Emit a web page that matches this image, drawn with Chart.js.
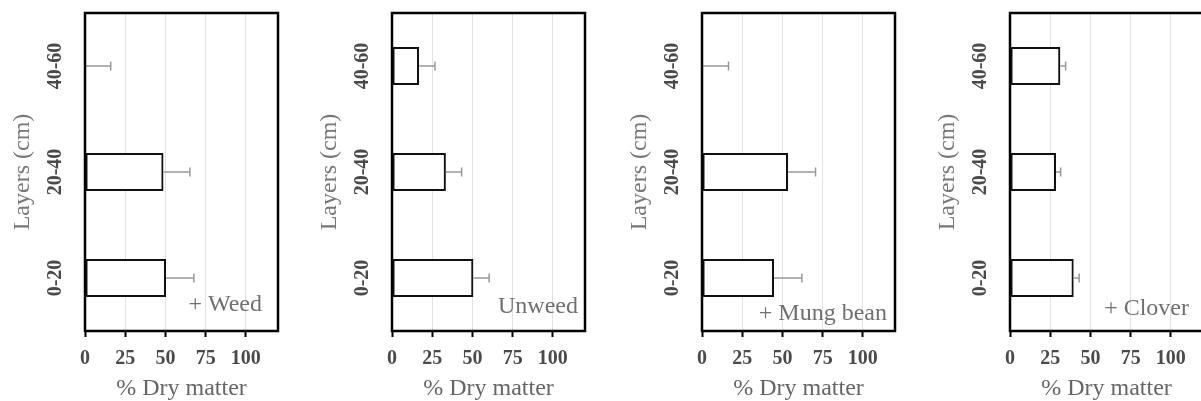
<!DOCTYPE html>
<html>
<head>
<meta charset="utf-8">
<title>% Dry matter by soil layer</title>
<script src="https://cdn.jsdelivr.net/npm/chart.js@4.4.1/dist/chart.umd.min.js"></script>
<style>
    html, body { margin: 0; padding: 0; background: #fff; overflow: hidden; width: 1201px; height: 401px; }
    .panel { position: absolute; top: 0; }
</style>
</head>
<body>
<canvas id="panel0" class="panel" width="308" height="401" style="left:0px"></canvas>
<canvas id="panel1" class="panel" width="308" height="401" style="left:307px"></canvas>
<canvas id="panel2" class="panel" width="308" height="401" style="left:617px"></canvas>
<canvas id="panel3" class="panel" width="308" height="401" style="left:925px"></canvas>
<script>
// Soil layers, top to bottom
const layers = ['40-60', '20-40', '0-20'];
const xTicks = [0, 25, 50, 75, 100];
const xMax = 120;

// Mean % dry matter and upper error per layer
const weedMean = [0, 48.8, 50.4];
const weedErr = [16, 16.4, 17.3];
const unweedMean = [16.9, 33.5, 50.6];
const unweedErr = [9.8, 9.8, 9.8];
const mungMean = [0, 53.6, 44.8];
const mungErr = [16.5, 17, 17.3];
const cloverMean = [31.3, 28.6, 39.6];
const cloverErr = [3.3, 2.9, 3.4];

const panelNames = ['+ Weed', 'Unweed', '+ Mung bean', '+ Clover'];

const panels = [
    { id: 'panel0', name: panelNames[0], mean: weedMean, err: weedErr, labelRight: 16, labelBottom: 20 },
    { id: 'panel1', name: panelNames[1], mean: unweedMean, err: unweedErr, labelRight: 7, labelBottom: 18 },
    { id: 'panel2', name: panelNames[2], mean: mungMean, err: mungErr, labelRight: 8, labelBottom: 11 },
    { id: 'panel3', name: panelNames[3], mean: cloverMean, err: cloverErr, labelRight: 14, labelBottom: 16 }
];

const serif = 'Liberation Serif';

// error bars, frame, rotated layer labels and the treatment label
const panelDecor = {
    id: 'panelDecor',
    afterDatasetsDraw(chart, args, opts) {
        const ctx = chart.ctx;
        const area = chart.chartArea;
        const xs = chart.scales.x;
        const ys = chart.scales.y;

        ctx.save();
        ctx.strokeStyle = '#999';
        ctx.lineWidth = 1.5;
        opts.mean.forEach((m, i) => {
            const y = ys.getPixelForValue(i);
            const x0 = xs.getPixelForValue(m);
            const x1 = xs.getPixelForValue(m + opts.err[i]);
            ctx.beginPath();
            ctx.moveTo(x0, y);
            ctx.lineTo(x1, y);
            ctx.moveTo(x1, y - 4.5);
            ctx.lineTo(x1, y + 4.5);
            ctx.stroke();
        });

        ctx.strokeStyle = '#000';
        ctx.lineWidth = 2.5;
        ctx.strokeRect(area.left, area.top, area.right - area.left, area.bottom - area.top);

        ctx.fillStyle = '#4a4a4a';
        ctx.font = 'bold 20px "' + serif + '"';
        ctx.textAlign = 'center';
        ctx.textBaseline = 'middle';
        ys.getLabels().forEach((lab, i) => {
            ctx.save();
            ctx.translate(area.left - 30.5, ys.getPixelForValue(i));
            ctx.rotate(-Math.PI / 2);
            ctx.fillText(lab, 0, 1);
            ctx.restore();
        });

        ctx.font = '24px "' + serif + '"';
        ctx.fillStyle = '#707070';
        ctx.textAlign = 'right';
        ctx.textBaseline = 'alphabetic';
        ctx.fillText(opts.name, area.right - opts.labelRight, area.bottom - opts.labelBottom);
        ctx.restore();
    }
};

panels.forEach(p => {
    new Chart(document.getElementById(p.id), {
        type: 'bar',
        data: {
            labels: layers,
            datasets: [{
                data: p.mean,
                backgroundColor: '#fff',
                borderColor: '#111',
                borderWidth: 2.2,
                borderSkipped: false,
                barPercentage: 0.36,
                categoryPercentage: 1
            }]
        },
        plugins: [panelDecor],
        options: {
            indexAxis: 'y',
            responsive: false,
            animation: false,
            layout: { padding: { left: 0, top: 13, right: 30, bottom: 0 } },
            plugins: {
                legend: { display: false },
                tooltip: { enabled: false },
                panelDecor: { name: p.name, mean: p.mean, err: p.err, labelRight: p.labelRight, labelBottom: p.labelBottom }
            },
            scales: {
                x: {
                    min: 0,
                    max: xMax,
                    afterBuildTicks: s => { s.ticks = xTicks.map(v => ({ value: v })); },
                    afterFit: s => { s.height = 70; },
                    grid: { color: '#e2e2e2', lineWidth: 1, drawTicks: true, tickColor: '#000', tickWidth: 2, tickLength: 6 },
                    border: { display: false },
                    ticks: { color: '#4a4a4a', padding: 10, font: { family: serif, size: 20, weight: 'bold' } },
                    title: {
                        display: true,
                        text: '% Dry matter',
                        color: '#666',
                        font: { family: serif, size: 24 },
                        padding: { top: 0, bottom: -2 }
                    }
                },
                y: {
                    afterFit: s => { s.width = 85; },
                    grid: { display: false },
                    border: { display: false },
                    ticks: { display: false },
                    title: {
                        display: true,
                        text: 'Layers (cm)',
                        color: '#777',
                        font: { family: serif, size: 24 },
                        padding: { top: 8, bottom: 0 }
                    }
                }
            }
        }
    });
});
</script>
</body>
</html>
